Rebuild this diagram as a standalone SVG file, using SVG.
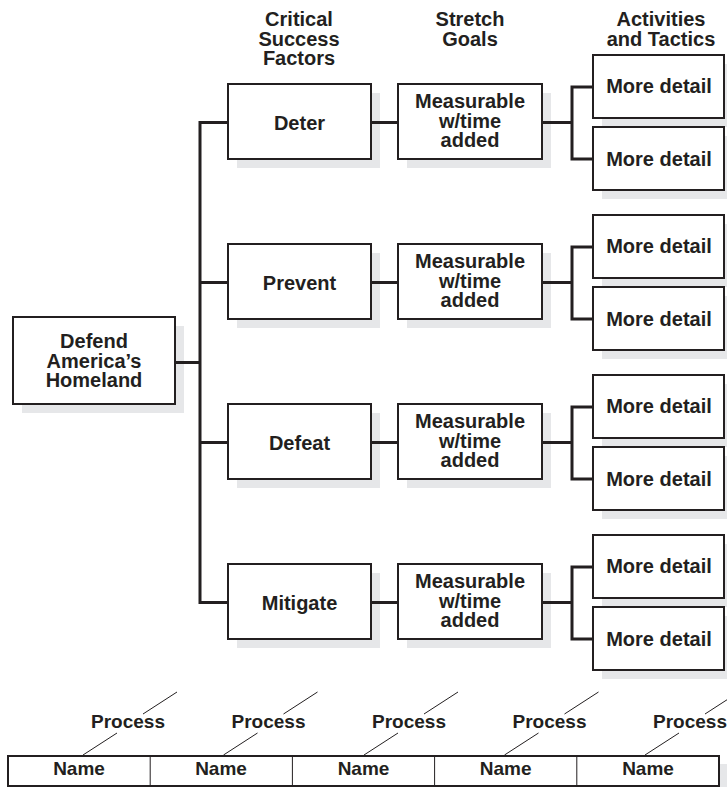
<svg xmlns="http://www.w3.org/2000/svg" width="727" height="787" viewBox="0 0 727 787">
<style>
.bg{fill:#ffffff}
.sh{fill:#e6e7e9}
.box{fill:#ffffff;stroke:#231f20;stroke-width:2}
.t{font-family:"Liberation Sans",Arial,Helvetica,sans-serif;font-weight:bold;font-size:20px;fill:#231f20;text-anchor:middle}
.h{font-family:"Liberation Sans",Arial,Helvetica,sans-serif;font-weight:bold;font-size:20px;fill:#231f20;text-anchor:middle}
.p{font-family:"Liberation Sans",Arial,Helvetica,sans-serif;font-weight:bold;font-size:19px;fill:#231f20;text-anchor:middle}
.c{fill:none;stroke:#231f20;stroke-width:3}
.thin{fill:none;stroke:#231f20;stroke-width:1}
</style>
<rect class="bg" x="0" y="0" width="727" height="787"/>
<g id="headers">
<text class="h" x="299" y="26">Critical</text>
<text class="h" x="299" y="46">Success</text>
<text class="h" x="299" y="65">Factors</text>
<text class="h" x="470" y="26">Stretch</text>
<text class="h" x="470" y="46">Goals</text>
<text class="h" x="661" y="26">Activities</text>
<text class="h" x="661" y="46">and Tactics</text>
</g>
<g id="root">
<rect class="sh" x="22" y="326" width="162" height="87"/>
<rect class="box" x="13" y="317" width="162" height="87"/>
<text class="t" x="94" y="348">Defend</text>
<text class="t" x="94" y="368">America’s</text>
<text class="t" x="94" y="387">Homeland</text>
</g>
<g id="csf-deter">
<rect class="sh" x="237" y="93" width="143" height="75"/>
<rect class="box" x="228" y="84" width="143" height="75"/>
<text class="t" x="299.5" y="130">Deter</text>
</g>
<g id="csf-prevent">
<rect class="sh" x="237" y="253" width="143" height="75"/>
<rect class="box" x="228" y="244" width="143" height="75"/>
<text class="t" x="299.5" y="290">Prevent</text>
</g>
<g id="csf-defeat">
<rect class="sh" x="237" y="413" width="143" height="75"/>
<rect class="box" x="228" y="404" width="143" height="75"/>
<text class="t" x="299.5" y="450">Defeat</text>
</g>
<g id="csf-mitigate">
<rect class="sh" x="237" y="573" width="143" height="75"/>
<rect class="box" x="228" y="564" width="143" height="75"/>
<text class="t" x="299.5" y="610">Mitigate</text>
</g>
<g id="goal-1">
<rect class="sh" x="407" y="93" width="144" height="75"/>
<rect class="box" x="398" y="84" width="144" height="75"/>
<text class="t" x="470" y="108">Measurable</text>
<text class="t" x="470" y="127.5">w/time</text>
<text class="t" x="470" y="147">added</text>
</g>
<g id="goal-2">
<rect class="sh" x="407" y="253" width="144" height="75"/>
<rect class="box" x="398" y="244" width="144" height="75"/>
<text class="t" x="470" y="268">Measurable</text>
<text class="t" x="470" y="287.5">w/time</text>
<text class="t" x="470" y="307">added</text>
</g>
<g id="goal-3">
<rect class="sh" x="407" y="413" width="144" height="75"/>
<rect class="box" x="398" y="404" width="144" height="75"/>
<text class="t" x="470" y="428">Measurable</text>
<text class="t" x="470" y="447.5">w/time</text>
<text class="t" x="470" y="467">added</text>
</g>
<g id="goal-4">
<rect class="sh" x="407" y="573" width="144" height="75"/>
<rect class="box" x="398" y="564" width="144" height="75"/>
<text class="t" x="470" y="588">Measurable</text>
<text class="t" x="470" y="607.5">w/time</text>
<text class="t" x="470" y="627">added</text>
</g>
<g id="detail-1a">
<rect class="sh" x="602" y="64" width="131" height="63"/>
<rect class="box" x="593" y="55" width="131" height="63"/>
<text class="t" x="659" y="93">More detail</text>
</g>
<g id="detail-1b">
<rect class="sh" x="602" y="136" width="131" height="63"/>
<rect class="box" x="593" y="127" width="131" height="63"/>
<text class="t" x="659" y="166">More detail</text>
</g>
<g id="detail-2a">
<rect class="sh" x="602" y="224" width="131" height="63"/>
<rect class="box" x="593" y="215" width="131" height="63"/>
<text class="t" x="659" y="253">More detail</text>
</g>
<g id="detail-2b">
<rect class="sh" x="602" y="296" width="131" height="63"/>
<rect class="box" x="593" y="287" width="131" height="63"/>
<text class="t" x="659" y="326">More detail</text>
</g>
<g id="detail-3a">
<rect class="sh" x="602" y="384" width="131" height="63"/>
<rect class="box" x="593" y="375" width="131" height="63"/>
<text class="t" x="659" y="413">More detail</text>
</g>
<g id="detail-3b">
<rect class="sh" x="602" y="456" width="131" height="63"/>
<rect class="box" x="593" y="447" width="131" height="63"/>
<text class="t" x="659" y="486">More detail</text>
</g>
<g id="detail-4a">
<rect class="sh" x="602" y="544" width="131" height="63"/>
<rect class="box" x="593" y="535" width="131" height="63"/>
<text class="t" x="659" y="573">More detail</text>
</g>
<g id="detail-4b">
<rect class="sh" x="602" y="616" width="131" height="63"/>
<rect class="box" x="593" y="607" width="131" height="63"/>
<text class="t" x="659" y="646">More detail</text>
</g>
<g id="connectors">
<path class="c" d="M176 362.5 H200"/>
<path class="c" d="M227 122.5 H200 V602.5 H227 M200 282.5 H227 M200 442.5 H227"/>
<g>
<path class="c" d="M372 122.5 H397 M543 122.5 H572 M592 87 H572 V159 H592"/>
</g>
<g transform="translate(0,160)">
<path class="c" d="M372 122.5 H397 M543 122.5 H572 M592 87 H572 V159 H592"/>
</g>
<g transform="translate(0,320)">
<path class="c" d="M372 122.5 H397 M543 122.5 H572 M592 87 H572 V159 H592"/>
</g>
<g transform="translate(0,480)">
<path class="c" d="M372 122.5 H397 M543 122.5 H572 M592 87 H572 V159 H592"/>
</g>
</g>
<g id="process-table">
<rect class="sh" x="16" y="764" width="711" height="30"/>
<rect class="box" x="8" y="756" width="711" height="30"/>
<path class="thin" d="M150.2 756 V786 M292.4 756 V786 M434.6 756 V786 M576.8 756 V786"/>
<text class="p" x="79" y="775">Name</text>
<text class="p" x="221" y="775">Name</text>
<text class="p" x="363.5" y="775">Name</text>
<text class="p" x="505.7" y="775">Name</text>
<text class="p" x="648" y="775">Name</text>
</g>
<g id="process-labels">
<g transform="translate(128,0)">
<path class="thin" d="M-45 755 L-11 733 M15 714 L49 692"/>
<text class="p" x="0" y="728">Process</text>
</g>
<g transform="translate(268.5,0)">
<path class="thin" d="M-45 755 L-11 733 M15 714 L49 692"/>
<text class="p" x="0" y="728">Process</text>
</g>
<g transform="translate(409,0)">
<path class="thin" d="M-45 755 L-11 733 M15 714 L49 692"/>
<text class="p" x="0" y="728">Process</text>
</g>
<g transform="translate(549.5,0)">
<path class="thin" d="M-45 755 L-11 733 M15 714 L49 692"/>
<text class="p" x="0" y="728">Process</text>
</g>
<g transform="translate(690,0)">
<path class="thin" d="M-45 755 L-11 733 M15 714 L49 692"/>
<text class="p" x="0" y="728">Process</text>
</g>
</g>
</svg>
